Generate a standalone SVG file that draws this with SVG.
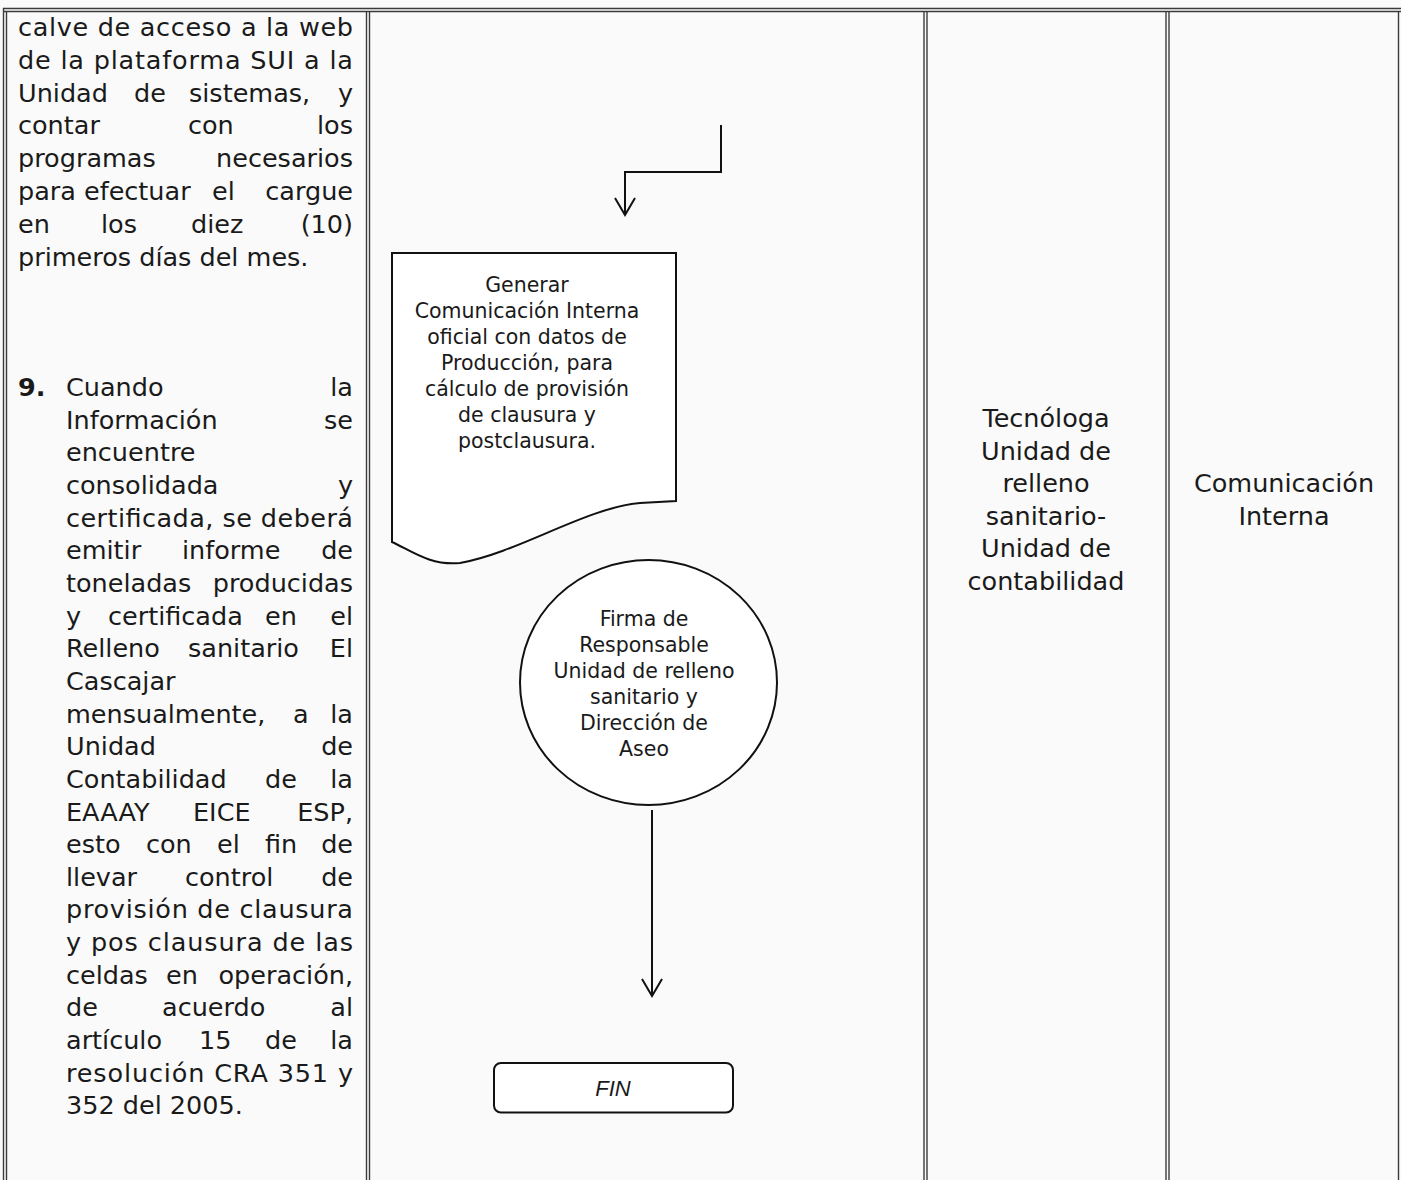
<svg xmlns="http://www.w3.org/2000/svg" width="1401" height="1180" viewBox="0 0 1401 1180">
<style>
.t{font-family:"DejaVu Sans","Verdana",sans-serif;font-size:25.5px;fill:#1a1a1a}
.r{text-anchor:end}
.f{font-family:"DejaVu Sans","Tahoma",sans-serif;font-size:20.5px;fill:#1a1a1a;text-anchor:middle}
.c{font-family:"DejaVu Sans","Verdana",sans-serif;font-size:25.5px;fill:#1a1a1a;text-anchor:middle}
.b{stroke:#3a3a3a;stroke-width:1.4;fill:none}
.s{stroke:#111;stroke-width:2;fill:#fff}
.k{stroke:#111;stroke-width:2;fill:none}
</style>
<defs>
<marker id="ah" markerUnits="userSpaceOnUse" viewBox="0 -12 20 24" refX="18" refY="0" markerWidth="20" markerHeight="24" orient="auto">
<path d="M1,-10 L18,0 L1,10" fill="none" stroke="#111" stroke-width="2"/>
</marker>
</defs>
<rect x="0" y="0" width="1401" height="1180" fill="#fafafa"/>
<g id="table">
<line class="b" x1="3" y1="8.5" x2="1401" y2="8.5"/>
<line class="b" x1="3" y1="11.5" x2="1401" y2="11.5"/>
<line class="b" x1="3.5" y1="8" x2="3.5" y2="1180"/>
<line class="b" x1="6.5" y1="11" x2="6.5" y2="1180"/>
<line class="b" x1="366.5" y1="11" x2="366.5" y2="1180"/>
<line class="b" x1="369.5" y1="11" x2="369.5" y2="1180"/>
<line class="b" x1="924" y1="11" x2="924" y2="1180"/>
<line class="b" x1="927" y1="11" x2="927" y2="1180"/>
<line class="b" x1="1166" y1="11" x2="1166" y2="1180"/>
<line class="b" x1="1169" y1="11" x2="1169" y2="1180"/>
<line class="b" x1="1398.5" y1="11" x2="1398.5" y2="1180"/>
</g>
<g id="description">
<text class="t" x="18" y="36" textLength="335" lengthAdjust="spacing">calve de acceso a la web</text>
<text class="t" x="18" y="68.8" textLength="335" lengthAdjust="spacing">de la plataforma SUI a la</text>
<text class="t" y="101.6"><tspan x="18">Unidad</tspan><tspan x="134">de</tspan><tspan x="189">sistemas,</tspan></text><text class="t r" x="353" y="101.6">y</text>
<text class="t" y="134.4"><tspan x="18">contar</tspan><tspan x="188">con</tspan></text><text class="t r" x="353" y="134.4">los</text>
<text class="t" x="18" y="167.2">programas</text><text class="t r" x="353" y="167.2">necesarios</text>
<text class="t" y="200"><tspan x="18">para</tspan><tspan x="84">efectuar</tspan><tspan x="212">el</tspan></text><text class="t r" x="353" y="200">cargue</text>
<text class="t" y="232.8"><tspan x="18">en</tspan><tspan x="101">los</tspan><tspan x="191">diez</tspan></text><text class="t r" x="353" y="232.8">(10)</text>
<text class="t" x="18" y="265.6">primeros días del mes.</text>

<text class="t" x="18" y="396" font-weight="bold">9.</text>
<text class="t" x="66" y="396">Cuando</text><text class="t r" x="353" y="396">la</text>
<text class="t" x="66" y="428.6">Información</text><text class="t r" x="353" y="428.6">se</text>
<text class="t" x="66" y="461.3">encuentre</text>
<text class="t" x="66" y="494">consolidada</text><text class="t r" x="353" y="494">y</text>
<text class="t" x="66" y="526.6" textLength="287" lengthAdjust="spacing">certificada, se deberá</text>
<text class="t" y="559.3"><tspan x="66">emitir</tspan><tspan x="182">informe</tspan></text><text class="t r" x="353" y="559.3">de</text>
<text class="t" x="66" y="591.9">toneladas</text><text class="t r" x="353" y="591.9">producidas</text>
<text class="t" y="624.6"><tspan x="66">y</tspan><tspan x="108">certificada</tspan><tspan x="265">en</tspan></text><text class="t r" x="353" y="624.6">el</text>
<text class="t" y="657.2"><tspan x="66">Relleno</tspan><tspan x="188">sanitario</tspan></text><text class="t r" x="353" y="657.2">El</text>
<text class="t" x="66" y="689.9">Cascajar</text>
<text class="t" y="722.5"><tspan x="66">mensualmente,</tspan><tspan x="293">a</tspan></text><text class="t r" x="353" y="722.5">la</text>
<text class="t" x="66" y="755.2">Unidad</text><text class="t r" x="353" y="755.2">de</text>
<text class="t" y="787.8"><tspan x="66">Contabilidad</tspan><tspan x="265">de</tspan></text><text class="t r" x="353" y="787.8">la</text>
<text class="t" y="820.5"><tspan x="66">EAAAY</tspan><tspan x="193">EICE</tspan></text><text class="t r" x="353" y="820.5">ESP,</text>
<text class="t" y="853.1"><tspan x="66">esto</tspan><tspan x="146">con</tspan><tspan x="217">el</tspan><tspan x="265">fin</tspan></text><text class="t r" x="353" y="853.1">de</text>
<text class="t" y="885.8"><tspan x="66">llevar</tspan><tspan x="185">control</tspan></text><text class="t r" x="353" y="885.8">de</text>
<text class="t" x="66" y="918.4" textLength="287" lengthAdjust="spacing">provisión de clausura</text>
<text class="t" x="66" y="951.1" textLength="287" lengthAdjust="spacing">y pos clausura de las</text>
<text class="t" y="983.7"><tspan x="66">celdas</tspan><tspan x="166">en</tspan></text><text class="t r" x="353" y="983.7">operación,</text>
<text class="t" y="1016.4"><tspan x="66">de</tspan><tspan x="162">acuerdo</tspan></text><text class="t r" x="353" y="1016.4">al</text>
<text class="t" y="1049"><tspan x="66">artículo</tspan><tspan x="199">15</tspan><tspan x="265">de</tspan></text><text class="t r" x="353" y="1049">la</text>
<text class="t" x="66" y="1081.7" textLength="287" lengthAdjust="spacing">resolución CRA 351 y</text>
<text class="t" x="66" y="1114.3">352 del 2005.</text>
</g>
<g id="connectors">
<polyline class="k" points="721,125 721,172 625,172 625,215" marker-end="url(#ah)"/>
<line class="k" x1="652" y1="810" x2="652" y2="996" marker-end="url(#ah)"/>
</g>
<g id="node-document">
<path class="s" d="M392,253 H676 V501 L640,503 C585,508 520,552 460,563 C430,566 410,550 392,542 Z"/>
<text class="f" x="527" y="291.5">Generar</text>
<text class="f" x="527" y="317.5">Comunicación Interna</text>
<text class="f" x="527" y="343.5">oficial con datos de</text>
<text class="f" x="527" y="369.5">Producción, para</text>
<text class="f" x="527" y="395.5">cálculo de provisión</text>
<text class="f" x="527" y="421.5">de clausura y</text>
<text class="f" x="527" y="447.5">postclausura.</text>
</g>
<g id="node-firma">
<ellipse class="s" cx="648.5" cy="682.5" rx="128.5" ry="122.5"/>
<text class="f" x="644" y="625.5">Firma de</text>
<text class="f" x="644" y="651.5">Responsable</text>
<text class="f" x="644" y="677.5">Unidad de relleno</text>
<text class="f" x="644" y="703.5">sanitario y</text>
<text class="f" x="644" y="729.5">Dirección de</text>
<text class="f" x="644" y="755.5">Aseo</text>
</g>
<g id="node-fin">
<rect class="s" x="494" y="1063" width="239" height="49.5" rx="7"/>
<text x="613" y="1096" font-family="'Liberation Sans',Arial,sans-serif" font-style="italic" font-size="22" fill="#1a1a1a" text-anchor="middle">FIN</text>
</g>
<g id="responsable">
<text class="c" x="1046" y="427">Tecnóloga</text>
<text class="c" x="1046" y="459.6">Unidad de</text>
<text class="c" x="1046" y="492.2">relleno</text>
<text class="c" x="1046" y="524.8">sanitario-</text>
<text class="c" x="1046" y="557.4">Unidad de</text>
<text class="c" x="1046" y="590">contabilidad</text>
</g>
<g id="documento">
<text class="c" x="1284" y="492.2">Comunicación</text>
<text class="c" x="1284" y="524.8">Interna</text>
</g>
</svg>
